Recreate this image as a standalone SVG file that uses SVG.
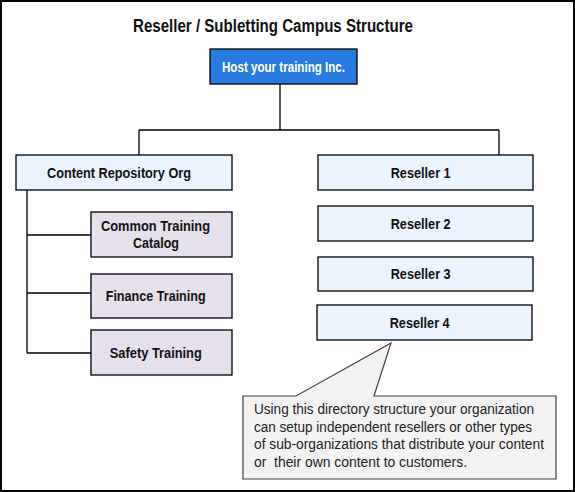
<svg xmlns="http://www.w3.org/2000/svg" width="575" height="492" viewBox="0 0 575 492">
<style>
.box{stroke:#000;stroke-width:1.3}
.blue{fill:#2a7be0}
.light{fill:#ebf3fd}
.lav{fill:#e6e0ec}
.t{font-family:"Liberation Sans",Arial,sans-serif;font-weight:bold;font-size:14px;fill:#111;text-anchor:middle}
.c{font-family:"Liberation Sans",Arial,sans-serif;font-size:14px;fill:#222}
.ln{stroke:#000;stroke-width:1.3;fill:none}
</style>
<rect x="1" y="1" width="573" height="490" fill="#fff" stroke="#000" stroke-width="2"/>
<text x="273" y="32" class="t" style="font-size:18px" textLength="280" lengthAdjust="spacingAndGlyphs">Reseller / Subletting Campus Structure</text>
<g id="connectors">
<path class="ln" d="M280 84V130M139 130H499M139 130V155M499 130V155"/>
<path class="ln" d="M27 190V353M27 235H91M27 293H91M27 353H91"/>
</g>
<g id="host"><rect class="box blue" x="210" y="49" width="147" height="35"/><text x="283.5" y="72" class="t" style="fill:#fff" textLength="123" lengthAdjust="spacingAndGlyphs">Host your training Inc.</text></g>
<g id="content-repo"><rect class="box light" x="16" y="155" width="216" height="35"/><text x="119" y="178" class="t" textLength="144" lengthAdjust="spacingAndGlyphs">Content Repository Org</text></g>
<g id="common"><rect class="box lav" x="91" y="212" width="141" height="45"/><text x="155.5" y="231" class="t" textLength="109" lengthAdjust="spacingAndGlyphs">Common Training</text><text x="156" y="248" class="t" textLength="46" lengthAdjust="spacingAndGlyphs">Catalog</text></g>
<g id="finance"><rect class="box lav" x="91" y="274" width="141" height="44"/><text x="155.7" y="301" class="t" textLength="100" lengthAdjust="spacingAndGlyphs">Finance Training</text></g>
<g id="safety"><rect class="box lav" x="91" y="330" width="141" height="45"/><text x="155.8" y="358" class="t" textLength="92" lengthAdjust="spacingAndGlyphs">Safety Training</text></g>
<g id="reseller1"><rect class="box light" x="318" y="155" width="215" height="35"/><text x="420.7" y="178" class="t" textLength="60" lengthAdjust="spacingAndGlyphs">Reseller 1</text></g>
<g id="reseller2"><rect class="box light" x="318" y="206" width="215" height="35"/><text x="420.7" y="229" class="t" textLength="60" lengthAdjust="spacingAndGlyphs">Reseller 2</text></g>
<g id="reseller3"><rect class="box light" x="318" y="257" width="215" height="34"/><text x="420.7" y="279" class="t" textLength="60" lengthAdjust="spacingAndGlyphs">Reseller 3</text></g>
<g id="reseller4"><rect class="box light" x="317" y="305" width="215" height="35"/><text x="419.7" y="328" class="t" textLength="60" lengthAdjust="spacingAndGlyphs">Reseller 4</text></g>
<g id="callout">
<path d="M243 396H296L391 343L374 396H556V479H243Z" fill="#f2f2f2" stroke="#404040" stroke-width="1.2"/>
<text class="c" x="254" y="414" textLength="280" lengthAdjust="spacingAndGlyphs">Using this directory structure your organization</text>
<text class="c" x="254" y="431.5" textLength="278" lengthAdjust="spacingAndGlyphs">can setup independent resellers or other types</text>
<text class="c" x="254" y="449" textLength="290" lengthAdjust="spacingAndGlyphs">of sub-organizations that distribute your content</text>
<text class="c" x="254" y="466.5" textLength="213" lengthAdjust="spacingAndGlyphs" xml:space="preserve">or  their own content to customers.</text>
</g>
</svg>
